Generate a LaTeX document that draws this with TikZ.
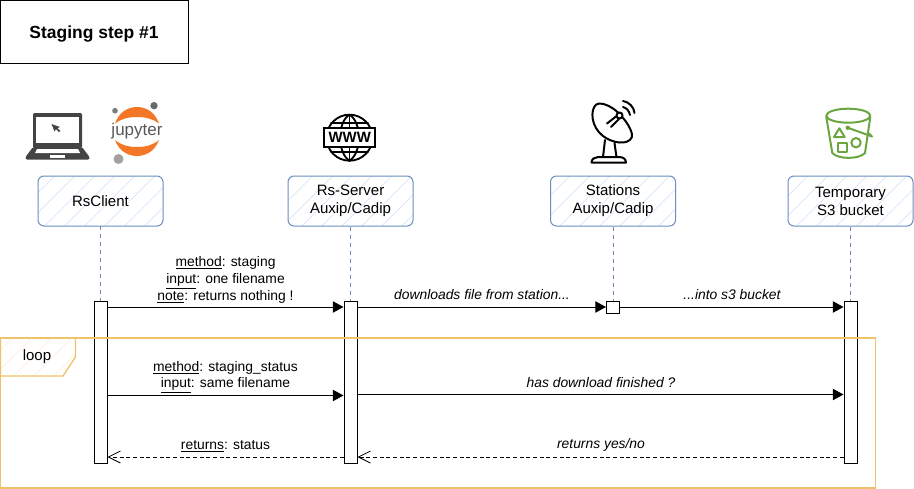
\documentclass[tikz,border=0pt]{standalone}
\usepackage{fontspec}
\setmainfont{Liberation Sans}
\usepackage{xcolor}
\usetikzlibrary{arrows.meta,patterns.meta}
\definecolor{headblue}{HTML}{6C8EBF}
\definecolor{hatchblue}{HTML}{DAE8FC}
\definecolor{loopline}{HTML}{EDC26A}
\definecolor{loophatch}{HTML}{FFE9D4}
\definecolor{jupyorange}{HTML}{F37726}
\definecolor{bucketgreen}{HTML}{6AA53F}
\definecolor{laptopgrey}{HTML}{444444}
\begin{document}
\begin{tikzpicture}[
    x=0.75pt,
    y=-0.75pt,
    line width=0.75pt,
    headbox/.style={draw=headblue, rounded corners=4.5pt, pattern={Lines[angle=45,distance=10.5pt,line width=0.6pt]}, pattern color=hatchblue, align=center, minimum width=93.75pt, minimum height=37.5pt, inner sep=0pt, font=\fontsize{11.25}{13.5}\selectfont},
    lifebar/.style={draw=black, fill=white, minimum width=9.75pt, minimum height=121.5pt, inner sep=0pt},
    lifeline/.style={draw=headblue, dashed},
    msg/.style={draw=black, -{Triangle[length=8pt,width=8.5pt]}},
    backmsg/.style={draw=black, densely dashed, -{Straight Barb[length=9pt,width=9pt,line width=0.6pt]}},
    msglabel/.style={align=center, inner sep=0pt, font=\fontsize{10.4}{12.75}\selectfont},
    msgitalic/.style={inner sep=0pt, font=\fontsize{10.4}{12}\selectfont\itshape},
    iconline/.style={line width=1.5pt, line join=round, line cap=round}
]
\useasboundingbox (0,0) rectangle (914,489);
\node[draw=black, minimum width=141pt, minimum height=47.25pt, inner sep=0pt, text height=11pt, text depth=1pt, font=\fontsize{13.1}{15}\selectfont\bfseries] (title) at (94,31.5) {Staging step \#1};
\node[headbox] (client) at (100.5,201) {RsClient};
\node[headbox] (server) at (350.5,201) {Rs-Server\\Auxip/Cadip};
\node[headbox] (stations) at (613,201) {Stations\\Auxip/Cadip};
\node[headbox] (bucket) at (850.5,201) {Temporary\\S3 bucket};
\node[lifebar] (clientbar) at (100.5,382) {};
\node[lifebar] (serverbar) at (350.5,382) {};
\node[lifebar, minimum height=9pt] (stationbar) at (613,307) {};
\node[lifebar] (bucketbar) at (850.5,382) {};
\draw[lifeline] (client) -- (clientbar);
\draw[lifeline] (server) -- (serverbar);
\draw[lifeline] (stations) -- (stationbar);
\draw[lifeline] (bucket) -- (bucketbar);
\coordinate (lvlone) at (0,307);
\coordinate (lvltwo) at (0,395.5);
\coordinate (lvlthree) at (0,394.5);
\coordinate (lvlfour) at (0,457);
\draw[msg] (clientbar.east |- lvlone) -- (serverbar.west |- lvlone);
\draw[msg] (serverbar.east |- lvlone) -- (stationbar.west |- lvlone);
\draw[msg] (stationbar.east |- lvlone) -- (bucketbar.west |- lvlone);
\draw[msg] (clientbar.east |- lvltwo) -- (serverbar.west |- lvltwo);
\draw[msg] (serverbar.east |- lvlthree) -- (bucketbar.west |- lvlthree);
\draw[backmsg] (serverbar.west |- lvlfour) -- (clientbar.east |- lvlfour);
\draw[backmsg] (bucketbar.west |- lvlfour) -- (serverbar.east |- lvlfour);
\node[msglabel] (callone) at (225.5,279.5) {\underline{method}: staging\\\underline{input}: one filename\\\underline{note}: returns nothing !};
\node[msgitalic] (download) at (482,295) {downloads file from station...};
\node[msgitalic] (intos) at (732,295) {...into s3 bucket};
\node[msglabel, font=\fontsize{10.4}{12}\selectfont] (calltwo) at (225.5,377.5) {\underline{method}: staging\_status\\\underline{input}: same filename};
\node[msgitalic] (finished) at (601,383) {has download finished ?};
\node[msglabel] (status) at (225.5,446) {\underline{returns}: status};
\node[msgitalic] (yesno) at (601,445) {returns yes/no};
\draw[loopline, line width=1pt] (0.5,338) rectangle (875.5,488);
\draw[loopline, line width=1pt, pattern={Lines[angle=45,distance=10.5pt,line width=0.6pt]}, pattern color=loophatch] (0.5,338) -- (75.5,338) -- (75.5,357) -- (63,376) -- (0.5,376) -- cycle;
\node[inner sep=0pt, font=\fontsize{11.25}{14}\selectfont] (looplabel) at (37,357) {loop};
% laptop
\fill[laptopgrey, rounded corners=1pt] (33,113) rectangle (82,148);
\fill[white] (36,117) rectangle (79,142.5);
\fill[laptopgrey, rounded corners=1pt] (33,147) -- (82,147) -- (89.5,157) -- (89.5,159.5) -- (25.5,159.5) -- (25.5,157) -- cycle;
\fill[white] (37,149) -- (78,149) -- (80,153) -- (35,153) -- cycle;
\fill[white] (50,155) rectangle (65,157.5);
\fill[laptopgrey] (51.5,124) -- (60,127) -- (57.5,128) -- (60.5,131) -- (59,132) -- (56,129) -- (54.5,131.5) -- cycle;
% jupyter
\fill[jupyorange] (115,123.5) .. controls (119,112) and (128,107) .. (137,107) .. controls (146,107) and (155,112) .. (159,123.5) .. controls (153,119) and (146,117) .. (137,117) .. controls (128,117) and (121,119) .. (115,123.5) -- cycle;
\fill[jupyorange] (115,140) .. controls (119,151) and (128,156) .. (137,156) .. controls (146,156) and (155,151) .. (159,140) .. controls (153,145) and (146,147) .. (137,147) .. controls (128,147) and (121,145) .. (115,140) -- cycle;
\node[inner sep=0pt, text=laptopgrey!90, font=\fontsize{12.75}{14}\selectfont] (jupytext) at (137,131.5) {jupyter};
\fill[laptopgrey!70] (115,110.7) circle[radius=2.8];
\fill[laptopgrey!80] (154,105.7) circle[radius=3.7];
\fill[laptopgrey!50] (118.5,159) circle[radius=5];
% globe
\draw[iconline, line width=1.4pt] (349.5,137.7) circle[radius=23];
\draw[iconline, line width=1.4pt] (349.5,114.7) .. controls (337,122) and (337,153) .. (349.5,160.7);
\draw[iconline, line width=1.4pt] (349.5,114.7) .. controls (362,122) and (362,153) .. (349.5,160.7);
\draw[iconline, line width=1.4pt] (349.5,114.7) -- (349.5,160.7);
\draw[iconline, line width=1.4pt] (331,123) -- (368,123);
\draw[iconline, line width=1.4pt] (331,152) -- (368,152);
\node[draw=black, fill=white, line width=1.5pt, minimum width=38.5pt, minimum height=14pt, inner sep=0pt, font=\fontsize{11.2}{12}\selectfont\bfseries] (wwwband) at (349.7,137.8) {WWW};
% dish
\draw[iconline] (596,104.7) .. controls (590,110) and (591,127) .. (603,136) .. controls (612,143) and (628,146) .. (632,137) .. controls (633,128) and (620,113) .. (613,108.5) .. controls (606,104) and (599,102) .. (596,104.7) -- cycle;
\draw[iconline] (607,123.5) -- (616,116.5);
\draw[iconline] (611,127) -- (619,119);
\draw[iconline, fill=white] (619.5,115.5) circle[radius=3];
\draw[iconline] (623,107) .. controls (627,108) and (629,111) .. (630,115);
\draw[iconline] (623,101) .. controls (629,102) and (634,107) .. (634.5,113);
\draw[iconline] (605,140) -- (603,157);
\draw[iconline] (614.5,143) -- (616.5,157);
\draw[iconline] (591.5,162.5) .. controls (591.5,159) and (595,157) .. (598,157) -- (619,157) .. controls (623,157) and (626,159) .. (626,162.5) -- cycle;
% bucket
\draw[bucketgreen, iconline] (848.3,115.7) ellipse[x radius=22, y radius=7];
\draw[bucketgreen, iconline] (826.3,117) -- (832.3,153) .. controls (838,159.5) and (859,159.5) .. (865,153) -- (870.3,117);
\draw[bucketgreen, iconline] (839.3,128.3) -- (834,137) -- (844.7,137) -- cycle;
\draw[bucketgreen, iconline] (837.8,142.7) rectangle (846.7,151.7);
\draw[bucketgreen, iconline] (856,142.7) circle[radius=4.7];
\fill[bucketgreen] (847.7,127.7) circle[radius=2.2];
\draw[bucketgreen, iconline] (847.7,127.7) -- (872,136.5) -- (869,133.5);
\end{tikzpicture}
\end{document}
